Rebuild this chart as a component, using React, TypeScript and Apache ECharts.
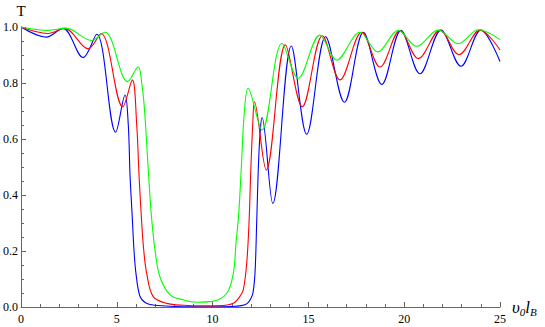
import React, { useEffect, useRef } from "react";
import * as echarts from "echarts";

const xTicks = [0, 5, 10, 15, 20, 25];
const yTicks = ["0.0", "0.2", "0.4", "0.6", "0.8", "1.0"];

const blueCurve: [number, number][] = [
  [0, 1.0], [1.32, 0.964], [2.19, 0.995], [3.24, 0.891], [3.95, 0.974], [4.94, 0.624],
  [5.43, 0.757], [5.6, 0.65], [5.69, 0.471], [5.8, 0.33], [5.9, 0.2], [6.0, 0.12],
  [6.2, 0.04], [6.5, 0.015], [7.0, 0.006], [8.0, 0.002], [9.0, 0.001], [10.0, 0.001],
  [11.0, 0.002], [11.5, 0.005], [11.8, 0.012], [12.0, 0.03], [12.12, 0.055], [12.22, 0.13],
  [12.3, 0.3], [12.4, 0.52], [12.5, 0.64], [12.58, 0.677], [13.14, 0.37], [14.11, 0.932],
  [14.91, 0.617], [15.9, 0.965], [16.88, 0.731], [17.87, 0.981], [18.83, 0.795], [19.83, 0.988],
  [20.82, 0.833], [21.92, 0.989], [22.96, 0.86], [24.0, 0.989], [25.0, 0.877],
];

const redCurve: [number, number][] = [
  [0, 1.0], [1.41, 0.977], [2.28, 0.995], [3.5, 0.922], [4.18, 0.977], [5.31, 0.715],
  [5.81, 0.811], [6.04, 0.65], [6.16, 0.471], [6.3, 0.3], [6.41, 0.2], [6.56, 0.12],
  [6.9, 0.037], [7.6, 0.013], [8.5, 0.006], [9.5, 0.004], [10.5, 0.005], [11.08, 0.013],
  [11.4, 0.035], [11.6, 0.061], [11.78, 0.156], [11.9, 0.3], [12.0, 0.5], [12.1, 0.66],
  [12.18, 0.733], [12.8, 0.489], [13.8, 0.936], [14.68, 0.715], [15.73, 0.969], [16.65, 0.811],
  [17.78, 0.981], [18.74, 0.857], [19.78, 0.987], [20.74, 0.887], [21.87, 0.989], [22.86, 0.901],
  [23.96, 0.989], [25.0, 0.918],
];

const greenCurve: [number, number][] = [
  [0, 1.0], [1.4, 0.988], [2.35, 0.996], [3.67, 0.952], [4.38, 0.981], [5.57, 0.805],
  [6.12, 0.858], [6.3, 0.8], [6.44, 0.71], [6.65, 0.483], [6.8, 0.33], [7.0, 0.2],
  [7.25, 0.108], [7.78, 0.043], [8.5, 0.025], [9.17, 0.017], [10.0, 0.02], [10.74, 0.049],
  [11.08, 0.12], [11.22, 0.227], [11.36, 0.33], [11.5, 0.5], [11.65, 0.69], [11.85, 0.781],
  [12.58, 0.632], [13.62, 0.942], [14.47, 0.817], [15.6, 0.971], [16.48, 0.882], [17.69, 0.981],
  [18.62, 0.911], [19.69, 0.988], [20.65, 0.931], [21.78, 0.989], [22.82, 0.94], [23.87, 0.99],
  [25.0, 0.955],
];

const FONT = "Liberation Serif, Times New Roman, serif";

export default function App() {
  const ref = useRef<HTMLDivElement>(null);
  useEffect(() => {
    if (!ref.current) return;
    const chart = echarts.init(ref.current, null, { renderer: "svg" });
    const axisColor = "#666";
    const mkLine = (data: [number, number][], color: string) => ({
      type: "line",
      data,
      smooth: 0.35,
      showSymbol: false,
      symbol: "none",
      lineStyle: { color, width: 1.1 },
      clip: true,
    });
    chart.setOption({
      animation: false,
      textStyle: { fontFamily: FONT },
      grid: { left: 21, right: 45, top: 27, bottom: 20, containLabel: false },
      xAxis: {
        type: "value",
        min: xTicks[0],
        max: xTicks[xTicks.length - 1],
        interval: 5,
        name: "{i|υ}{s|0}{i|l}{s|B}",
        nameLocation: "end",
        nameGap: 12,
        nameTextStyle: {
          fontFamily: FONT,
          rich: {
            i: { fontFamily: FONT, fontStyle: "italic", fontSize: 17, color: "#000" },
            s: { fontFamily: FONT, fontStyle: "italic", fontSize: 11, color: "#000", padding: [10, 0, 0, 0] },
          },
        },
        axisLine: { lineStyle: { color: axisColor, width: 1 } },
        axisTick: { inside: true, length: 5, lineStyle: { color: axisColor } },
        minorTick: { show: true, splitNumber: 5, length: 3, lineStyle: { color: axisColor } },
        splitLine: { show: false },
        axisLabel: {
          fontFamily: FONT,
          fontSize: 12,
          color: "#000",
          margin: 6,
          formatter: (v: number) => (xTicks.includes(v) ? String(v) : ""),
        },
      },
      yAxis: {
        type: "value",
        min: 0,
        max: 1,
        interval: 0.2,
        name: "T",
        nameLocation: "end",
        nameGap: 9,
        nameTextStyle: { fontFamily: FONT, fontSize: 15, color: "#000", align: "center" },
        axisLine: { show: true, lineStyle: { color: axisColor, width: 1 } },
        axisTick: { show: true, inside: true, length: 5, lineStyle: { color: axisColor } },
        minorTick: { show: true, splitNumber: 4, length: 3, lineStyle: { color: axisColor } },
        splitLine: { show: false },
        axisLabel: {
          fontFamily: FONT,
          fontSize: 12,
          color: "#000",
          margin: 3,
          formatter: (v: number) => yTicks[Math.round(v * 5)] ?? "",
        },
      },
      series: [
        mkLine(blueCurve, "#0000ff"),
        mkLine(redCurve, "#ff0000"),
        mkLine(greenCurve, "#00ff00"),
      ],
    });
    return () => chart.dispose();
  }, []);
  return (
    <div
      ref={ref}
      style={{ position: "fixed", left: 0, top: 0, width: 545, height: 327, background: "#fff" }}
    />
  );
}
